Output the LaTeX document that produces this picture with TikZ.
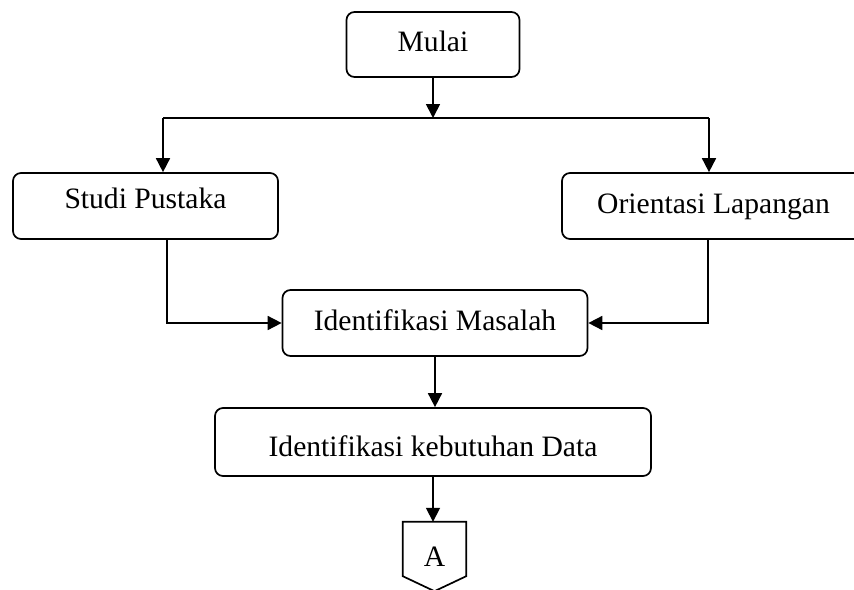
\documentclass[tikz,border=0pt]{standalone}
\usepackage{fontspec}
\setmainfont{Liberation Serif}
\usetikzlibrary{arrows.meta}
\begin{document}
\begin{tikzpicture}[x=1pt,y=-1pt,
    kotak/.style={draw,rounded corners=8pt,line width=1.7pt,minimum height=66pt,inner sep=0pt,
        text height=20pt,text depth=6pt,font=\fontsize{29.6}{35}\selectfont},
    panah/.style={line width=1.7pt,-{Triangle[length=14pt,width=14pt]}},
    garis/.style={line width=1.7pt}]
    \useasboundingbox (0,0) rectangle (854,589);
    \clip (0,0) rectangle (854,589);

    \node[kotak,minimum width=173pt,minimum height=65pt] (mulai) at (433,44.5) {Mulai};
    \node[kotak,minimum width=265pt,text depth=16pt] (studi) at (145.5,206) {Studi Pustaka};
    \node[kotak,minimum width=303pt] (orient) at (713.5,206) {Orientasi Lapangan};
    \node[kotak,minimum width=305pt] (masalah) at (435,323) {Identifikasi Masalah};
    \node[kotak,minimum width=436pt,minimum height=68pt,text height=34pt] (data) at (433,442) {Identifikasi kebutuhan Data};
    \node[inner sep=0pt,minimum width=63pt,minimum height=69pt,text height=20pt,text depth=0pt,
        font=\fontsize{29.6}{35}\selectfont] (A) at (434.5,556.5) {A};
    \draw[garis,line join=miter] (A.north west) -- (A.north east) -- ([yshift=15pt]A.south east)
        -- (A.south) -- ([yshift=15pt]A.south west) -- cycle;

    \coordinate (kiri) at (163,118);
    \coordinate (kanan) at (709,118);
    \draw[panah] (mulai.south) -- (mulai.south |- kiri);
    \draw[garis] (kiri) -- (kanan);
    \draw[panah] (kiri) -- (kiri |- studi.north);
    \draw[panah] (kanan) -- (kanan |- orient.north);
    \draw[panah] ([xshift=21.5pt]studi.south) |- (masalah.west);
    \draw[panah] ([xshift=-5.5pt]orient.south) |- (masalah.east);
    \draw[panah] (masalah.south) -- (masalah.south |- data.north);
    \draw[panah] (data.south) -- (data.south |- A.north);
\end{tikzpicture}
\end{document}
